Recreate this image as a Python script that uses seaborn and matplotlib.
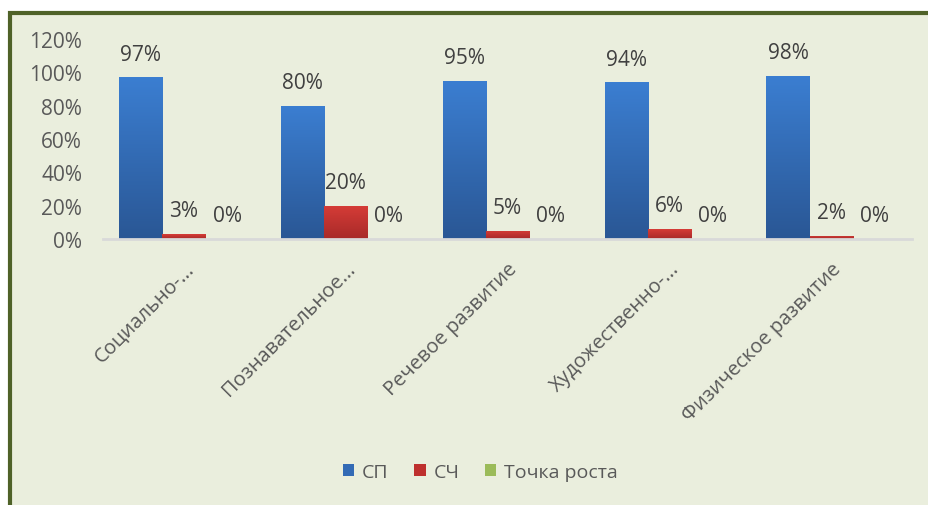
import matplotlib.pyplot as plt
import matplotlib.patches as mpatches
from matplotlib.colors import LinearSegmentedColormap
import numpy as np
import seaborn as sns
import pandas as pd

# Chart data
categories = ["Социально-...", "Познавательное...", "Речевое развитие",
              "Художественно-...", "Физическое развитие"]
sp = [0.97, 0.80, 0.95, 0.94, 0.98]
sch = [0.03, 0.20, 0.05, 0.06, 0.02]
tochka = [0.0, 0.0, 0.0, 0.0, 0.0]
series_names = ["СП", "СЧ", "Точка роста"]
y_ticks = [0, 0.2, 0.4, 0.6, 0.8, 1.0, 1.2]

df = pd.DataFrame({
    "Категория": categories * 3,
    "Значение": sp + sch + tochka,
    "Серия": [series_names[0]] * 5 + [series_names[1]] * 5 + [series_names[2]] * 5,
})

# Plot settings
sns.set_style("white")
plt.rcParams["font.family"] = ["Open Sans", "DejaVu Sans"]
text_grey = "#595959"

fig = plt.figure(figsize=(9.29, 5.06), dpi=100)
fig.patch.set_facecolor("white")

# green chart frame, kept behind the axes
frame = mpatches.Rectangle((10 / 929, -0.1), 2, 1.1 - 13.5 / 506,
                           transform=fig.transFigure, facecolor="#EAEEDD",
                           edgecolor="#4F6228", linewidth=3, zorder=-10)
fig.patches.append(frame)

ax = fig.add_axes([103 / 929, 1 - 240 / 506, 809 / 929, 200 / 506])
ax.set_facecolor("none")
ax.set_zorder(1)

palette = {"СП": "#336BB5", "СЧ": "#BE302E", "Точка роста": "#9BBB59"}
sns.barplot(data=df, x="Категория", y="Значение", hue="Серия", palette=palette,
            width=0.8, saturation=1, linewidth=0, ax=ax, legend=True)

ax.set_ylim(0, 1.2)
ax.set_xlim(-0.5, 4.5)

# Excel-like vertical gradient on the bars
gradients = [("#3B7ED1", "#2A5795"), ("#D63C37", "#A82A29")]
grad = np.linspace(1, 0, 64).reshape(-1, 1)
for cont, (c_top, c_bot) in zip(ax.containers[:2], gradients):
    cmap = LinearSegmentedColormap.from_list("g", [c_bot, c_top])
    for bar in cont:
        x0, w, h = bar.get_x(), bar.get_width(), bar.get_height()
        if h <= 0:
            continue
        im = ax.imshow(grad, cmap=cmap, aspect="auto", extent=(x0, x0 + w, 0, h),
                       zorder=bar.get_zorder() + 0.1, vmin=0, vmax=1)
        im.set_clip_path(bar)
ax.set_xlim(-0.5, 4.5)
ax.set_ylim(0, 1.2)

for cont in ax.containers:
    ax.bar_label(cont, fmt=lambda v: f"{v:.0%}", padding=9,
                 fontsize=15, color="#404040")

ax.set_yticks(y_ticks)
ax.set_yticklabels([f"{int(round(t * 100))}%" for t in y_ticks],
                   fontsize=15, color=text_grey)
ax.set_xlabel("")
ax.set_ylabel("")
ax.tick_params(axis="both", length=0)
ax.tick_params(axis="y", pad=15)
ax.tick_params(axis="x", pad=14)
ax.set_xticks(range(len(categories)))
ax.set_xticklabels(categories, rotation=45, ha="right", rotation_mode="anchor",
                   fontsize=14.5, color=text_grey)

for s in ["top", "right", "left"]:
    ax.spines[s].set_visible(False)
ax.spines["bottom"].set_color("#D9D9D9")
ax.spines["bottom"].set_linewidth(2)

handles, labels = ax.get_legend_handles_labels()
ax.legend(handles, labels, loc="center", bbox_to_anchor=(0.517, 1 - 473 / 506),
          bbox_transform=fig.transFigure, ncol=3, frameon=False,
          handlelength=0.6, handleheight=0.6, handletextpad=0.4,
          columnspacing=1.3, fontsize=14, labelcolor=text_grey)

plt.savefig("out.png", dpi=100, facecolor="white")
